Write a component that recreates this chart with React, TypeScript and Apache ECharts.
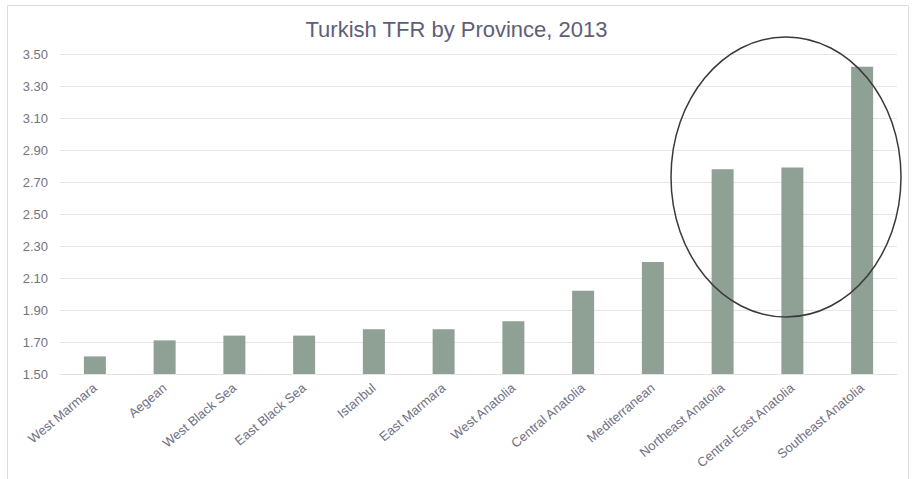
import React, { useEffect, useRef } from "react";
import * as echarts from "echarts";

const categories = [
  "West Marmara",
  "Aegean",
  "West Black Sea",
  "East Black Sea",
  "Istanbul",
  "East Marmara",
  "West Anatolia",
  "Central Anatolia",
  "Mediterranean",
  "Northeast Anatolia",
  "Central-East Anatolia",
  "Southeast Anatolia",
];
const tfrValues = [1.61, 1.71, 1.74, 1.74, 1.78, 1.78, 1.83, 2.02, 2.2, 2.78, 2.79, 3.42];
const titleText = "Turkish TFR by Province, 2013";

export default function App() {
  const ref = useRef<HTMLDivElement>(null);
  useEffect(() => {
    const chart = echarts.init(ref.current!, undefined, { renderer: "svg" });
    chart.setOption({
      animation: false,
      backgroundColor: "#ffffff",
      title: {
        text: titleText,
        left: "center",
        top: 13,
        textStyle: {
          fontFamily: "Liberation Sans, Arial, sans-serif",
          fontSize: 22,
          fontWeight: "normal",
          color: "#5e5e78",
        },
      },
      grid: { left: 60, right: 16, top: 54, bottom: 105 },
      xAxis: {
        type: "category",
        data: categories,
        axisLine: { show: true, lineStyle: { color: "#e3e3e3" } },
        axisTick: { show: false },
        axisLabel: {
          rotate: 40,
          interval: 0,
          margin: 12,
          fontFamily: "Liberation Sans, Arial, sans-serif",
          fontSize: 13,
          color: "#707084",
        },
      },
      yAxis: {
        type: "value",
        min: 1.5,
        max: 3.5,
        interval: 0.2,
        axisLine: { show: false },
        axisTick: { show: false },
        splitLine: { lineStyle: { color: "#e6e6e6", width: 1 } },
        axisLabel: {
          margin: 12,
          fontFamily: "Liberation Sans, Arial, sans-serif",
          fontSize: 13,
          color: "#74747f",
          formatter: (v: number) => v.toFixed(2),
        },
      },
      series: [
        {
          type: "bar",
          data: tfrValues,
          barWidth: 22,
          itemStyle: { color: "#8fa095" },
        },
      ],
      graphic: [
        {
          type: "rect",
          shape: { x: 7.5, y: 5.5, width: 901, height: 490 },
          style: { fill: "none", stroke: "#dcdcdc", lineWidth: 1 },
          silent: true,
        },
        {
          type: "ellipse",
          shape: { cx: 786, cy: 177, rx: 115, ry: 140 },
          style: { fill: "none", stroke: "#3a3a3a", lineWidth: 1.5 },
          z: 100,
          silent: true,
        },
      ],
    });
    return () => chart.dispose();
  }, []);
  return (
    <div
      ref={ref}
      style={{ position: "absolute", left: 0, top: 0, width: 913, height: 479 }}
    />
  );
}
